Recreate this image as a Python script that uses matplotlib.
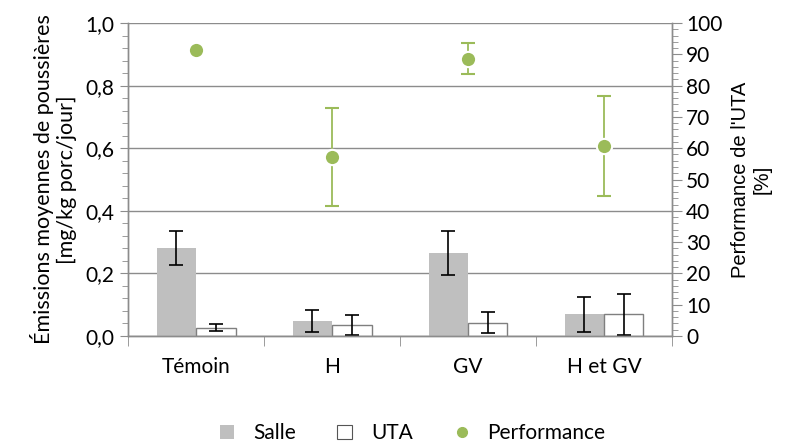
import matplotlib.pyplot as plt
import numpy as np
from matplotlib.patches import Patch
from matplotlib.lines import Line2D
from matplotlib.ticker import MultipleLocator, FuncFormatter

plt.rcParams['font.family'] = ['Lato', 'DejaVu Sans']

# Données
categories = ['Témoin', 'H', 'GV', 'H et GV']
salle = [0.281, 0.048, 0.264, 0.069]
salle_err = [0.055, 0.035, 0.070, 0.056]
uta = [0.027, 0.035, 0.043, 0.069]
uta_err = [0.012, 0.032, 0.033, 0.065]
performance = [91.3, 57.3, 88.6, 60.7]
performance_err = [0.0, 15.7, 5.0, 16.0]

gris = '#BFBFBF'
vert = '#9BBB59'
ligne = '#8C8C8C'

fig = plt.figure(figsize=(7.86, 4.43), dpi=100)
ax = fig.add_axes([0.163, 0.2415, 0.692, 0.7065])
ax2 = ax.twinx()

x = np.arange(len(categories))
w = 0.29

ax.bar(x - w/2, salle, w, color=gris, zorder=2)
ax.bar(x + w/2, uta, w, color='white', edgecolor='#7F7F7F', linewidth=1, zorder=2)
ax.errorbar(x - w/2, salle, yerr=salle_err, fmt='none', ecolor='black', capsize=5, elinewidth=1.2, capthick=1.2, zorder=3)
ax.errorbar(x + w/2, uta, yerr=uta_err, fmt='none', ecolor='black', capsize=5, elinewidth=1.2, capthick=1.2, zorder=3)

ax2.errorbar(x, performance, yerr=performance_err, fmt='o', color=vert, ecolor=vert,
             markersize=11, markeredgecolor='white', markeredgewidth=1.5,
             capsize=5, elinewidth=1.3, capthick=1.3)

ax.set_xlim(-0.5, 3.5)
ax.set_ylim(0, 1.0)
ax2.set_ylim(0, 100)

ax.yaxis.set_major_locator(MultipleLocator(0.2))
ax.yaxis.set_minor_locator(MultipleLocator(0.04))
ax.yaxis.set_major_formatter(FuncFormatter(lambda v, p: f'{v:.1f}'.replace('.', ',')))
ax2.yaxis.set_major_locator(MultipleLocator(10))
ax2.yaxis.set_minor_locator(MultipleLocator(2))

ax.set_xticks(x)
ax.set_xticklabels(categories)
ax.set_xticks(np.arange(-0.5, 4, 1), minor=True)
ax.tick_params(axis='x', which='major', length=0, pad=15, labelsize=15)
ax.tick_params(axis='x', which='minor', length=7, color=ligne, direction='out')
ax.tick_params(axis='y', which='major', length=6, color=ligne, labelsize=15, pad=4)
ax.tick_params(axis='y', which='minor', length=4, color=ligne)
ax2.tick_params(axis='y', which='major', length=7, color=ligne, labelsize=15, pad=3)
ax2.tick_params(axis='y', which='minor', length=4, color=ligne)

ax.grid(axis='y', color=ligne, linewidth=1)
ax.set_axisbelow(True)

for a in (ax, ax2):
    a.spines['top'].set_visible(False)
    for s in ('left', 'right', 'bottom'):
        a.spines[s].set_color(ligne)
        a.spines[s].set_linewidth(1)

ax.set_ylabel('Émissions moyennes de poussières\n[mg/kg porc/jour]', fontsize=15.5, labelpad=6)
ax2.set_ylabel("Performance de l'UTA\n[%]", fontsize=14.5, family='Liberation Sans', labelpad=6)

handles = [Patch(facecolor=gris, edgecolor='none'),
           Patch(facecolor='white', edgecolor='#555555', linewidth=0.8),
           Line2D([], [], marker='o', color=vert, linestyle='none', markersize=7)]
fig.legend(handles, ['Salle', 'UTA', 'Performance'], loc='center', bbox_to_anchor=(0.525, 0.022),
           ncol=3, frameon=False, fontsize=15, handlelength=0.7, handleheight=0.7,
           columnspacing=2.0, handletextpad=0.9)

fig.savefig('out.png', dpi=100)
